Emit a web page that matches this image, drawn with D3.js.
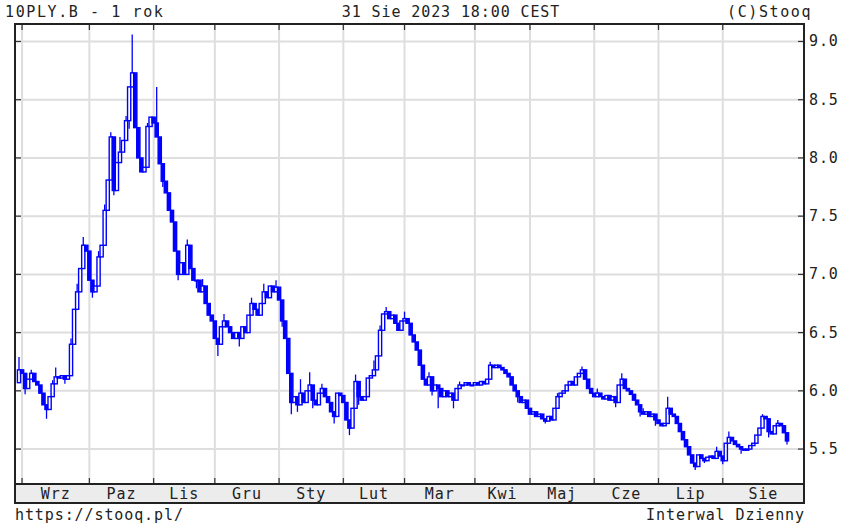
<!DOCTYPE html>
<html><head><meta charset="utf-8">
<script src="https://cdn.jsdelivr.net/npm/d3@7"></script>
<style>
body{margin:0;background:#fff}
svg{display:block}
text{font-family:"DejaVu Sans Mono",monospace;font-size:15px;letter-spacing:0.9px;fill:#222}
</style>
</head><body>
<svg width="849" height="527"></svg>
<script>
// ---- data ----
const title = "10PLY.B - 1 rok";
const stamp = "31 Sie 2023 18:00 CEST";
const credit = "(C)Stooq";
const footerLeft = "https://stooq.pl/";
const footerRight = "Interwal Dzienny";
const months = ["Wrz","Paz","Lis","Gru","Sty","Lut","Mar","Kwi","Maj","Cze","Lip","Sie"];
const monthDays = [22,21,20,21,21,20,23,18,21,21,21,22]; // trading days per month
const yTicks = [5.5,6.0,6.5,7.0,7.5,8.0,8.5,9.0];
const firstOpen = 6.07;
const closes = [
  6.18, // 31 Aug 2022
  // Sep
  6.15,6.02,6.10,6.15,6.08,6.05,5.98,5.88,5.84,5.95,6.06,6.12,6.11,6.13,6.10,6.13,6.40,6.70,6.85,7.05,7.25,7.20,
  // Oct
  6.95,6.85,6.90,7.15,7.25,7.55,7.81,8.18,7.72,7.96,8.05,8.15,8.32,8.61,8.73,8.26,8.00,7.88,7.92,8.27,8.35,
  // Nov
  8.30,8.18,7.95,7.80,7.70,7.55,7.45,7.20,7.00,7.10,7.00,7.25,7.05,6.95,6.95,6.85,6.90,6.75,6.65,6.60,
  // Dec
  6.45,6.40,6.55,6.60,6.55,6.50,6.45,6.50,6.45,6.55,6.50,6.65,6.75,6.70,6.65,6.75,6.85,6.80,6.90,6.85,6.89,
  // Jan
  6.78,6.60,6.45,6.15,5.90,5.95,5.88,5.98,5.90,6.00,6.05,5.92,5.88,5.98,6.02,5.95,5.90,5.82,5.78,5.98,5.96,
  // Feb
  5.90,5.75,5.68,5.85,6.08,5.95,5.92,5.95,6.11,6.13,6.18,6.30,6.52,6.66,6.68,6.62,6.65,6.58,6.52,6.60,
  // Mar
  6.62,6.58,6.48,6.42,6.35,6.22,6.10,6.05,6.12,6.00,6.05,6.02,5.95,6.00,5.95,5.98,5.92,6.02,6.05,6.05,6.07,6.05,6.05,
  // Apr
  6.07,6.05,6.08,6.06,6.10,6.22,6.20,6.22,6.20,6.18,6.15,6.12,6.05,6.00,5.95,5.90,5.92,5.85,
  // May
  5.80,5.82,5.78,5.80,5.76,5.74,5.78,5.75,5.85,5.95,5.98,6.00,6.05,6.08,6.05,6.12,6.15,6.18,6.10,6.02,5.98,
  // Jun
  5.95,5.98,5.95,5.93,5.96,5.92,5.95,5.90,6.05,6.10,6.02,6.00,5.97,5.92,5.88,5.82,5.80,5.82,5.78,5.80,5.75,
  // Jul
  5.72,5.70,5.72,5.85,5.80,5.78,5.72,5.65,5.58,5.52,5.45,5.38,5.35,5.45,5.42,5.40,5.43,5.44,5.42,5.48,5.44,
  // Aug
  5.40,5.55,5.60,5.57,5.54,5.52,5.50,5.49,5.50,5.53,5.55,5.62,5.68,5.78,5.76,5.65,5.63,5.70,5.72,5.70,5.64,5.57
];
const highWicks = [[0,6.29],[4,6.18],[11,6.09],[12,6.20],[17,6.45],[19,6.92],[21,7.32],[26,7.20],[28,7.60],[30,8.22],[33,8.18],[35,8.36],[37,9.06],[39,8.14],[42,8.30],[45,8.61],[51,7.30],[55,7.30],[60,6.96],[67,6.66],[76,6.80],[80,6.92],[84,6.95],[92,6.10],[95,6.16],[99,6.06],[110,6.14],[116,6.26],[118,6.56],[120,6.72],[126,6.68],[134,6.16],[144,6.08],[154,6.25],[159,6.18],[176,5.98],[184,6.21],[189,6.02],[197,6.15],[204,5.85],[212,5.95],[228,5.52],[232,5.65],[243,5.80],[248,5.75]];
const lowWicks = [[2,5.97],[9,5.76],[15,6.06],[24,6.80],[31,7.68],[36,8.25],[47,7.75],[52,6.95],[58,6.88],[65,6.30],[72,6.38],[86,6.55],[89,5.80],[91,5.82],[96,5.85],[103,5.72],[108,5.62],[111,5.88],[135,5.96],[137,5.85],[142,5.85],[163,5.90],[172,5.72],[195,5.86],[203,5.78],[208,5.70],[221,5.32],[224,5.38],[230,5.37],[236,5.46],[245,5.60],[251,5.54]];

// ---- layout ----
const L=15, R=804, T=24, B=484, BB=503;
const svg = d3.select("svg");
const n = closes.length;
const x = d3.scaleLinear().domain([0, n-1]).range([19, 787]);
const y = d3.scaleLinear().domain([5.2, 9.15]).range([B, T]);

const hiMap = new Map(highWicks), loMap = new Map(lowWicks);
const candles = closes.map((c,i)=>{
  const o = i===0 ? firstOpen : closes[i-1];
  const hi = Math.max(o,c,hiMap.get(i) ?? -Infinity);
  const lo = Math.min(o,c,loMap.get(i) ?? Infinity);
  return {i,o,c,hi,lo};
});

// month start indices
const starts = [];
let acc = 1;
monthDays.forEach(d=>{starts.push(acc); acc+=d;});

// label band
svg.append("rect").attr("x",L).attr("y",B).attr("width",R-L).attr("height",BB-B).attr("fill","#ececec");

// grid
const grid = svg.append("g").attr("stroke","#dedede").attr("stroke-width",2);
starts.forEach(s=>grid.append("line").attr("x1",x(s)).attr("x2",x(s)).attr("y1",T).attr("y2",B));
yTicks.forEach(t=>grid.append("line").attr("x1",L).attr("x2",R).attr("y1",y(t)).attr("y2",y(t)));

// ticks
const tk = svg.append("g").attr("stroke","#333").attr("stroke-width",1.2);
starts.forEach(s=>{
  tk.append("line").attr("x1",x(s)).attr("x2",x(s)).attr("y1",T).attr("y2",T+6);
  tk.append("line").attr("x1",x(s)).attr("x2",x(s)).attr("y1",B-6).attr("y2",B);
});
yTicks.forEach(t=>{
  tk.append("line").attr("x1",L).attr("x2",L+6).attr("y1",y(t)).attr("y2",y(t));
  tk.append("line").attr("x1",R-6).attr("x2",R).attr("y1",y(t)).attr("y2",y(t));
});

// candles
const cg = svg.append("g");
cg.selectAll("line.w").data(candles).join("line")
  .attr("x1",d=>x(d.i)).attr("x2",d=>x(d.i))
  .attr("y1",d=>y(d.hi)).attr("y2",d=>y(d.lo))
  .attr("stroke","#0000ff").attr("stroke-width",1.3);
cg.selectAll("rect").data(candles).join("rect")
  .attr("x",d=>x(d.i)-1.6).attr("width",3.2)
  .attr("y",d=>y(Math.max(d.o,d.c)))
  .attr("height",d=>Math.max(0.8, Math.abs(y(d.o)-y(d.c))))
  .attr("fill",d=>d.c>=d.o ? "#ffffff" : "#0000ff")
  .attr("stroke","#0000ff").attr("stroke-width",1.4);

// frame
svg.append("rect").attr("x",L).attr("y",T).attr("width",R-L).attr("height",BB-T)
  .attr("fill","none").attr("stroke","#222").attr("stroke-width",2);
svg.append("line").attr("x1",L).attr("x2",R).attr("y1",B).attr("y2",B).attr("stroke","#222").attr("stroke-width",2);

// y labels
yTicks.forEach(t=>svg.append("text").attr("x",809).attr("y",y(t)+5).text(t.toFixed(1)));

// month labels
months.forEach((m,k)=>{
  const x0 = x(starts[k]);
  const x1 = k<months.length-1 ? x(starts[k+1]) : R;
  svg.append("text").attr("x",(x0+x1)/2).attr("y",499).attr("text-anchor","middle").text(m);
});

// header & footer
svg.append("text").attr("x",5).attr("y",17).style("letter-spacing","1.6px").text(title);
svg.append("text").attr("x",451).attr("y",17).attr("text-anchor","middle").text(stamp);
svg.append("text").attr("x",727).attr("y",17).style("letter-spacing","1.6px").text(credit);
svg.append("text").attr("x",15).attr("y",520).text(footerLeft);
svg.append("text").attr("x",805).attr("y",520).attr("text-anchor","end").text(footerRight);
</script>
</body></html>
